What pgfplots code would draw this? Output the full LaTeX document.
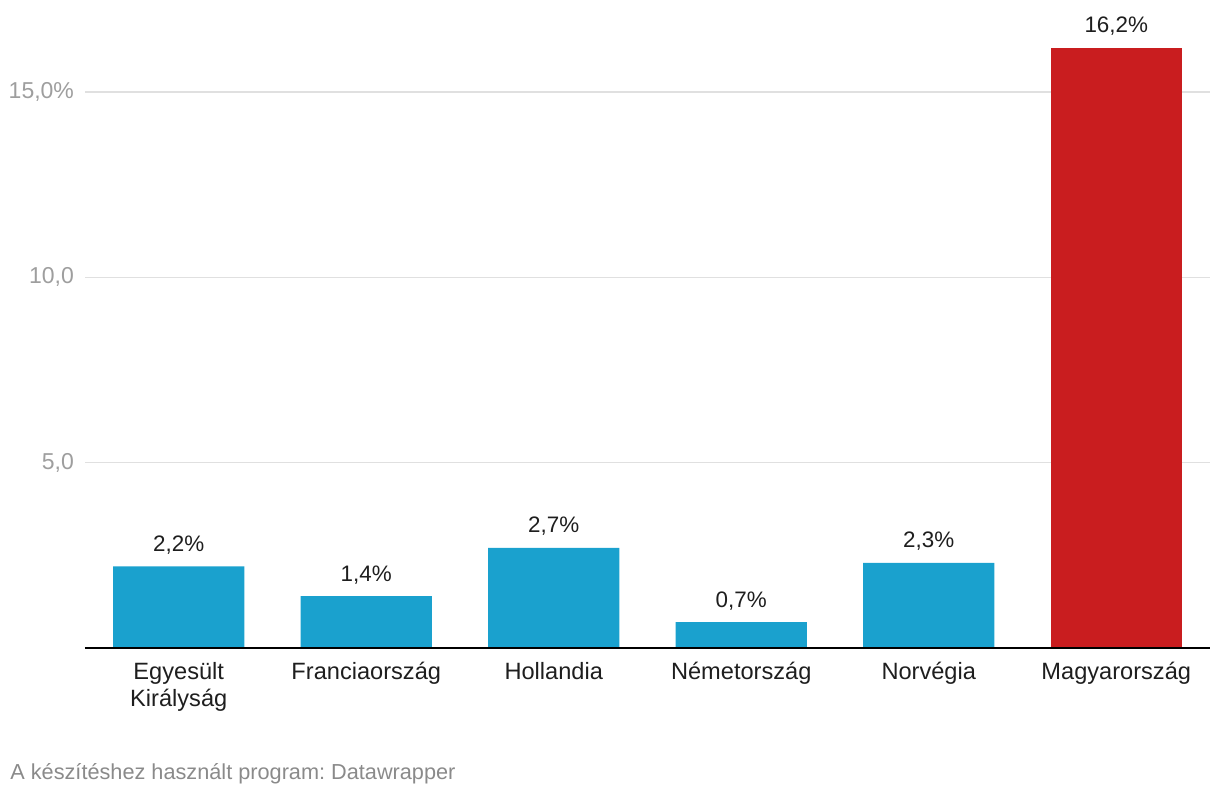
\documentclass[border=0pt]{standalone}
\usepackage{pgfplots}
\pgfplotsset{compat=1.18}
\usepackage{fontspec}
\setmainfont{Liberation Sans}
\frenchspacing
\definecolor{barblue}{RGB}{26,161,206}
\definecolor{barred}{RGB}{201,29,31}
\definecolor{gridgray}{RGB}{224,224,224}
\definecolor{ticgray}{RGB}{158,158,158}
\definecolor{footgray}{RGB}{138,138,138}
\definecolor{txt}{RGB}{30,30,30}
\begin{document}
\begin{tikzpicture}
\begin{axis}[
  scale only axis,
  width=562.5pt, height=315pt,
  ymin=0, ymax=17,
  xmin=-0.5, xmax=5.5,
  axis line style={draw=none},
  ybar, bar width=0.7,
  xtick={0,1,2,3,4,5},
  xticklabels={{Egyesült\\Királyság},Franciaország,Hollandia,Németország,Norvégia,Magyarország},
  xticklabel style={align=center, font=\fontsize{11.8}{13.5}\selectfont, text=txt, anchor=north, yshift=-3.5pt},
  major tick length=0pt,
  ytick={5,10,15},
  yticklabels={{5,0},{10,0},{15,0\%}},
  yticklabel style={font=\fontsize{11.5}{13}\selectfont, text=ticgray, anchor=east, xshift=-2pt},
  ymajorgrids, grid style={draw=gridgray, line width=0.8pt},
  nodes near coords={\pgfmathprintnumber[fixed,fixed zerofill,precision=1,use comma,assume math mode=true]{\pgfplotspointmeta}\%},
  every node near coord/.append style={font=\fontsize{11.2}{12}\selectfont, text=txt, anchor=base, yshift=7.5pt, inner sep=0pt},
  clip=false,
]
\addplot[fill=barblue, draw=none, bar shift=0] coordinates {(0,2.2) (1,1.4) (2,2.7) (3,0.7) (4,2.3)};
\addplot[fill=barred, draw=none, bar shift=0] coordinates {(5,16.2)};
\draw[black, line width=1pt] (axis cs:-0.5,0) -- (axis cs:5.5,0);
\end{axis}
\node[anchor=base west, font=\fontsize{10.85}{12}\selectfont, text=footgray, inner sep=0pt] at (-37.5pt,-66pt) {A készítéshez használt program: Datawrapper};
\path[use as bounding box] (-42.5pt,-74pt) rectangle (567.5pt,324pt);
\end{tikzpicture}
\end{document}
